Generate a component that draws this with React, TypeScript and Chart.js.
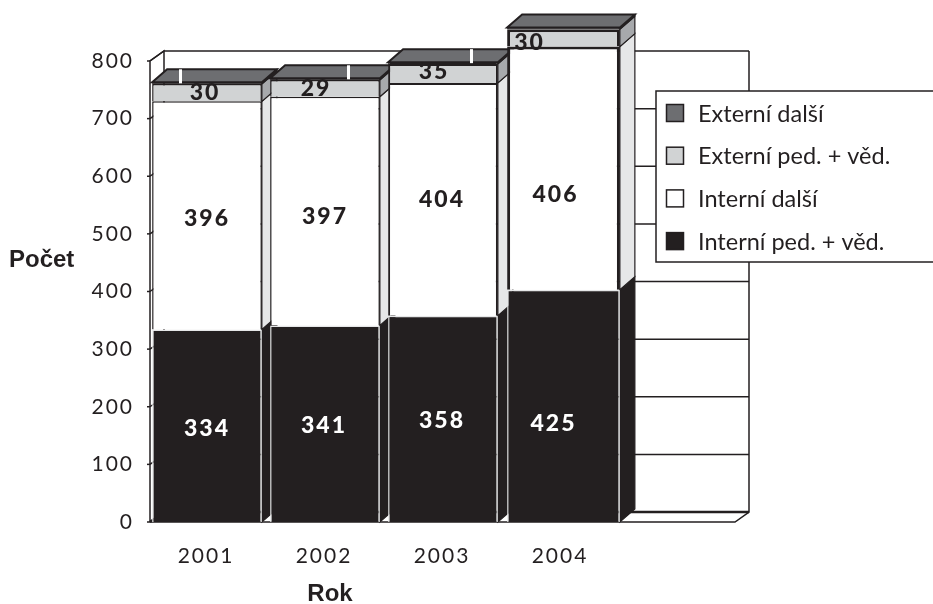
import React, { useEffect, useRef } from "react";
import { Chart, registerables } from "chart.js";

Chart.register(...registerables);

const FONT = "Lato, 'Open Sans', sans-serif";

const categories = ["2001", "2002", "2003", "2004", ""];
// Segment heights as drawn in the picture (the 2004 bar is not drawn to its printed numbers).
const interniPed = [334, 341, 358, 403];
const interniDalsi = [396, 397, 404, 422];
const externiPed = [30, 29, 33, 30];
const externiDalsi = [3, 3, 3, 3];
// Numbers as printed on the bars.
const interniPedLabels = ["334", "341", "358", "425"];
const interniDalsiLabels = ["396", "397", "404", "406"];
const externiPedLabels = ["30", "29", "35", "30"];

const yTitle = "Počet";
const xTitle = "Rok";

const BLACK = "#231f20";
const DX = 15;
const DY = 13;

const labelNudges: Record<number, [number, number][]> = {
  0: [[0, 3], [-1, 2], [-1, 2], [-10, 18]],
  1: [[0, 3], [0, 5], [-1, 0], [-8, 26]],
  2: [[-2, 0], [-9, 0], [-9, -2], [-34, 5]],
};
const whiteTicks: (number | null)[] = [-28, 22, 27, null];

const wallPlugin = {
  id: "wall3d",
  afterDatasetsUpdate(chart: any) {
    // the last bar is a little wider than the others in the reference
    chart.data.datasets.forEach((_: any, di: number) => {
      const el = chart.getDatasetMeta(di).data[3];
      el.x += 2.5;
      el.width += 3;
    });
  },
  beforeDatasetsDraw(chart: any) {
    const { ctx, chartArea, scales } = chart;
    const y = scales.y;
    const l = chartArea.left + 2;
    const r = chartArea.right - 3;
    const wx = 14;
    const wy = 10;
    const y0 = y.getPixelForValue(0);
    const yTop = y.getPixelForValue(800);
    ctx.save();
    ctx.strokeStyle = BLACK;
    ctx.lineWidth = 1.5;
    for (const v of y.ticks.map((t: any) => t.value)) {
      const py = y.getPixelForValue(v);
      ctx.lineWidth = v === 0 ? 2.5 : 1.5;
      ctx.beginPath();
      ctx.moveTo(l, py);
      ctx.lineTo(l + wx, py - wy);
      ctx.lineTo(r + wx, py - wy);
      ctx.stroke();
      ctx.lineWidth = 1.5;
      ctx.beginPath();
      ctx.moveTo(l - 3, py);
      ctx.lineTo(l, py);
      ctx.stroke();
    }
    ctx.beginPath();
    ctx.moveTo(l, y0);
    ctx.lineTo(l, yTop);
    ctx.lineTo(l + wx, yTop - wy);
    ctx.lineTo(l + wx, y0 - wy);
    ctx.moveTo(r + wx, yTop - wy);
    ctx.lineTo(r + wx, y0 - wy);
    ctx.lineTo(r, y0);
    ctx.lineTo(l, y0);
    ctx.moveTo(l, y0);
    ctx.lineTo(l + wx, y0 - wy);
    ctx.stroke();

    const sideCols = [BLACK, "#e6e7e8", "#a7a9ac", "#6d6e71"];
    chart.data.datasets.forEach((_: any, di: number) => {
      chart.getDatasetMeta(di).data.forEach((el: any) => {
        const right = el.x + el.width / 2;
        ctx.fillStyle = sideCols[di];
        ctx.strokeStyle = BLACK;
        ctx.lineWidth = 1.2;
        ctx.beginPath();
        ctx.moveTo(right, el.y);
        ctx.lineTo(right + DX, el.y - DY);
        ctx.lineTo(right + DX, el.base - DY);
        ctx.lineTo(right, el.base);
        ctx.closePath();
        ctx.fill();
        ctx.stroke();
      });
    });
    const last = chart.data.datasets.length - 1;
    chart.getDatasetMeta(last).data.forEach((el: any) => {
      const a = el.x - el.width / 2;
      const b = el.x + el.width / 2;
      ctx.fillStyle = "#6d6e71";
      ctx.strokeStyle = BLACK;
      ctx.lineWidth = 2;
      ctx.beginPath();
      ctx.moveTo(a, el.y);
      ctx.lineTo(a + DX, el.y - DY);
      ctx.lineTo(b + DX, el.y - DY);
      ctx.lineTo(b, el.y);
      ctx.closePath();
      ctx.fill();
      ctx.stroke();
    });
    ctx.restore();
  },
  afterDatasetsDraw(chart: any) {
    const { ctx } = chart;
    ctx.save();
    const last = chart.data.datasets.length - 1;
    chart.getDatasetMeta(last).data.forEach((el: any, i: number) => {
      const off = whiteTicks[i];
      if (off === null || off === undefined) return;
      ctx.fillStyle = "#ffffff";
      ctx.fillRect(el.x + off, el.y - DY, 3, DY + 1);
    });
    const printed = [interniPedLabels, interniDalsiLabels, externiPedLabels];
    ctx.textAlign = "center";
    ctx.textBaseline = "middle";
    ctx.font = `900 23px ${FONT}`;
    (ctx as any).letterSpacing = "2px";
    printed.forEach((arr, di) => {
      chart.getDatasetMeta(di).data.forEach((el: any, i: number) => {
        const [nx, ny] = labelNudges[di][i];
        ctx.fillStyle = di === 0 ? "#ffffff" : BLACK;
        ctx.fillText(arr[i], el.x + nx, (el.y + el.base) / 2 + ny);
      });
    });
    (ctx as any).letterSpacing = "0px";
    ctx.restore();
  },
  afterDraw(chart: any) {
    const { ctx, scales } = chart;
    ctx.save();
    ctx.fillStyle = "#ffffff";
    ctx.strokeStyle = BLACK;
    ctx.lineWidth = 1.5;
    ctx.fillRect(656, 91, 280, 171);
    ctx.strokeRect(656, 91, 280, 171);
    const rows = [...chart.data.datasets].reverse();
    const fills = ["#6d6e71", "#d1d3d4", "#ffffff", BLACK];
    rows.forEach((ds: any, i: number) => {
      const cy = 113 + i * 42.7;
      ctx.fillStyle = fills[i];
      ctx.strokeStyle = BLACK;
      ctx.lineWidth = 1.5;
      ctx.fillRect(666.5, cy - 8.5, 17, 17);
      ctx.strokeRect(666.5, cy - 8.5, 17, 17);
      ctx.fillStyle = BLACK;
      ctx.font = `23.5px ${FONT}`;
      ctx.textAlign = "left";
      ctx.textBaseline = "middle";
      ctx.fillText(ds.label, 698, cy + 1);
    });
    ctx.fillStyle = BLACK;
    ctx.font = "bold 24px 'Liberation Sans', Arial, sans-serif";
    ctx.textAlign = "left";
    ctx.textBaseline = "middle";
    ctx.fillText(scales.y.options.title.text, 9, 260);
    ctx.textAlign = "center";
    ctx.fillText(scales.x.options.title.text, 330, 594);
    ctx.restore();
  },
};

export default function App() {
  const ref = useRef<HTMLCanvasElement>(null);
  useEffect(() => {
    document.body.style.margin = "0";
    const spacedLabels = {
      id: "spacedLabels",
      beforeDraw(chart: any) {
        for (const id of ["x", "y"]) {
          const s = chart.scales[id];
          if (s.__wrapped) continue;
          const orig = s.drawLabels.bind(s);
          s.drawLabels = (area: any) => {
            (chart.ctx as any).letterSpacing = "2px";
            orig(area);
            (chart.ctx as any).letterSpacing = "0px";
          };
          s.__wrapped = true;
        }
      },
    };
    const chart = new Chart(ref.current!, {
      type: "bar",
      data: {
        labels: categories,
        datasets: [
          { label: "Interní ped. + věd.", data: interniPed, backgroundColor: BLACK, borderColor: "#e6e7e8", borderWidth: 1.5, clip: false },
          { label: "Interní další", data: interniDalsi, backgroundColor: "#ffffff", borderColor: BLACK, borderWidth: [1.5, 1.5, 2, 3], clip: false },
          { label: "Externí ped. + věd.", data: externiPed, backgroundColor: "#d1d3d4", borderColor: BLACK, borderWidth: [1.5, 1.5, 2, 3], clip: false },
          { label: "Externí další", data: externiDalsi, backgroundColor: BLACK, borderColor: BLACK, borderWidth: 1.5, clip: false },
        ],
      },
      options: {
        responsive: false,
        animation: false,
        layout: { padding: { top: 61, right: 195, left: 0, bottom: 0 } },
        datasets: { bar: { barPercentage: 0.93, categoryPercentage: 1 } },
        plugins: { legend: { display: false }, tooltip: { enabled: false } },
        scales: {
          x: {
            stacked: true,
            afterFit: (s: any) => { s.height = 82; },
            grid: { display: false, drawTicks: false },
            border: { display: false },
            title: { display: false, text: xTitle },
            ticks: { color: BLACK, font: { family: FONT, size: 21 }, padding: 22, labelOffset: -1, maxRotation: 0, autoSkip: false },
          },
          y: {
            stacked: true,
            min: 0,
            max: 800,
            afterFit: (s: any) => { s.width = 148; },
            grid: { display: false, drawTicks: false },
            border: { display: false },
            title: { display: false, text: yTitle },
            ticks: { stepSize: 100, color: BLACK, font: { family: FONT, size: 21 }, padding: 14 },
          },
        },
      } as any,
      plugins: [wallPlugin, spacedLabels] as any,
    });
    return () => chart.destroy();
  }, []);
  return (
    <div style={{ width: 933, height: 604, overflow: "hidden", background: "#fff" }}>
      <canvas ref={ref} width={933} height={604} style={{ display: "block" }} />
    </div>
  );
}
